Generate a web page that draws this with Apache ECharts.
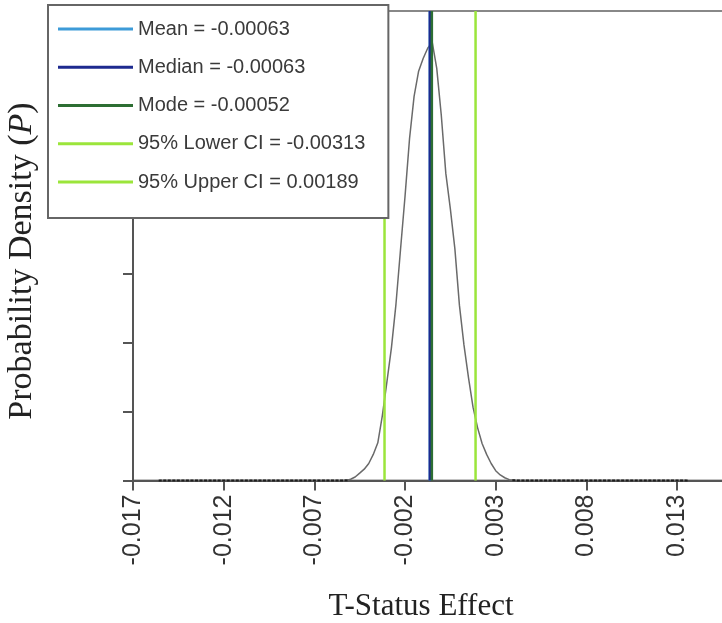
<!DOCTYPE html>
<html><head><meta charset="utf-8">
<script src="https://cdn.jsdelivr.net/npm/echarts@6/dist/echarts.min.js"></script>
<style>html,body{margin:0;padding:0;background:#fff}#c{width:722px;height:623px}</style>
</head><body><div id="c"></div><script>
// Posterior density of T-Status effect
const densityX = [
  -0.0155,-0.01525,-0.015,-0.01475,-0.0145,-0.01425,-0.014,-0.01375,-0.0135,-0.01325,
  -0.013,-0.01275,-0.0125,-0.01225,-0.012,-0.01175,-0.0115,-0.01125,-0.011,-0.01075,
  -0.0105,-0.01025,-0.01,-0.00975,-0.0095,-0.00925,-0.009,-0.00875,-0.0085,-0.00825,
  -0.008,-0.00775,-0.0075,-0.00725,-0.007,-0.00675,-0.0065,-0.00625,-0.006,-0.00575,
  -0.0055,-0.00525,-0.005,-0.00475,-0.0045,-0.00425,-0.004,-0.00375,-0.0035,-0.00325,
  -0.003,-0.00275,-0.0025,-0.00225,-0.002,-0.00175,-0.0015,-0.00125,-0.001,-0.00075,
  -0.0005,-0.00025,0,0.00025,0.0005,0.00075,0.001,0.00125,0.0015,0.00175,
  0.002,0.00225,0.0025,0.00275,0.003,0.00325,0.0035,0.00375,0.004,0.00425,
  0.0045,0.00475,0.005,0.00525,0.0055,0.00575,0.006,0.00625,0.0065,0.00675,
  0.007,0.00725,0.0075,0.00775,0.008,0.00825,0.0085,0.00875,0.009,0.00925,
  0.0095,0.00975,0.01,0.01025,0.0105,0.01075,0.011,0.01125,0.0115,0.01175,
  0.012,0.01225,0.0125,0.01275,0.013,0.01325,0.0135
];
const densityY = [
  0,0,0,0,0,0,0,0,0,0,
  0,0,0,0,0,0,0,0,0,0,
  0,0,0,0,0,0,0,0,0,0,
  0,0,0,0,0,0,0,0,0,0,
  0,0.1,0.9,2.5,5.3,8.2,12.3,18.9,27.3,47,
  71.2,96,127.6,166.9,205.7,247.7,278.2,296.4,305.6,313,
  317.5,298.5,264.5,222.4,196.7,167.7,127,98.2,74.5,53.1,
  38.3,26.8,18.9,12.3,7.1,4,2,0.6,0.2,0,
  0,0,0,0,0,0,0,0,0,0,
  0,0,0,0,0,0,0,0,0,0,
  0,0,0,0,0,0,0,0,0,0,
  0,0,0,0,0,0,0
];
const statNames = ['Mean', 'Median', 'Mode', '95% Lower CI', '95% Upper CI'];
const statValues = [-0.00063, -0.00063, -0.00052, -0.00313, 0.00189];
const statColors = ['#3d9bd8', '#1d2a8f', '#2d6e33', '#9be53b', '#9be53b'];
const xTickLabels = ['-0.017', '-0.012', '-0.007', '-0.002', '0.003', '0.008', '0.013'];
const xMin = -0.017, xMax = 0.0165, xStep = 0.005;
const yMin = 0, yMax = 340, yStep = 50;

const chart = echarts.init(document.getElementById('c'), null, {renderer: 'canvas'});

const densityData = densityX.map((x, i) => [x, densityY[i]]);
const series = [{
  type: 'line',
  name: 'density',
  data: densityData,
  showSymbol: true,
  showAllSymbol: true,
  symbol: 'rect',
  symbolSize: v => (v[1] < 0.5 ? [3, 2] : 0),
  itemStyle: {color: '#1e1e1e'},
  lineStyle: {color: '#6a6a6a', width: 1.5},
  silent: true,
  z: 2
}];
statNames.forEach((n, i) => {
  series.push({
    type: 'line',
    name: n + ' = ' + String(statValues[i]),
    data: [[statValues[i], yMin], [statValues[i], yMax]],
    symbol: 'none',
    lineStyle: {color: statColors[i], width: 2.5},
    itemStyle: {color: statColors[i]},
    silent: true,
    z: 3
  });
});

chart.setOption({
  animation: false,
  backgroundColor: '#ffffff',
  grid: {left: 133, top: 11, width: 607.5, bottom: 142.5, outerBoundsMode: 'none', containLabel: false,
         show: true, borderColor: '#888', borderWidth: 2, backgroundColor: 'transparent'},
  legend: {
    data: series.slice(1).map(s => s.name),
    orient: 'vertical',
    left: 48, top: 5,
    padding: [14, 23, 26, 10],
    icon: 'rect',
    itemWidth: 75, itemHeight: 3, itemGap: 18.25,
    backgroundColor: '#ffffff',
    borderColor: '#666', borderWidth: 2, borderRadius: 0,
    selectedMode: false,
    textStyle: {fontFamily: '"Liberation Sans", Arial, sans-serif', fontSize: 20, color: '#3a3a3a', lineHeight: 20},
    z: 10
  },
  xAxis: {
    type: 'value', min: xMin, max: xMax, interval: xStep,
    splitLine: {show: false},
    axisLine: {onZero: false, lineStyle: {color: '#555', width: 2}},
    axisTick: {length: 10, lineStyle: {color: '#555', width: 2}},
    axisLabel: {
      rotate: 90, margin: 14,
      fontFamily: '"Liberation Sans", Arial, sans-serif', fontSize: 25, color: '#333',
      formatter: v => { const s = xTickLabels.find(t => Math.abs(Number(t) - v) < 1e-9); return s || ''; }
    }
  },
  yAxis: {
    type: 'value', min: yMin, max: yMax, interval: yStep,
    splitLine: {show: false},
    axisLine: {onZero: false, lineStyle: {color: '#555', width: 2}},
    axisTick: {length: 10, lineStyle: {color: '#555', width: 2}},
    axisLabel: {show: false}
  },
  graphic: [
    {type: 'text', x: 421, y: 607, z: 20,
     style: {text: 'T-Status Effect', font: '31px "Liberation Serif", serif', fill: '#222', textAlign: 'center', textVerticalAlign: 'middle'}},
    {type: 'text', x: 22, y: 261, rotation: Math.PI / 2, z: 20,
     style: {text: '{a|Probability Density (}{i|P}{a|)}', textAlign: 'center', textVerticalAlign: 'middle', fill: '#222',
       rich: {
         a: {fontFamily: '"Liberation Serif", serif', fontSize: 34, fill: '#222'},
         i: {fontFamily: '"Liberation Serif", serif', fontSize: 34, fontStyle: 'italic', fill: '#222'}
       }}}
  ],
  series: series
});
</script></body></html>
